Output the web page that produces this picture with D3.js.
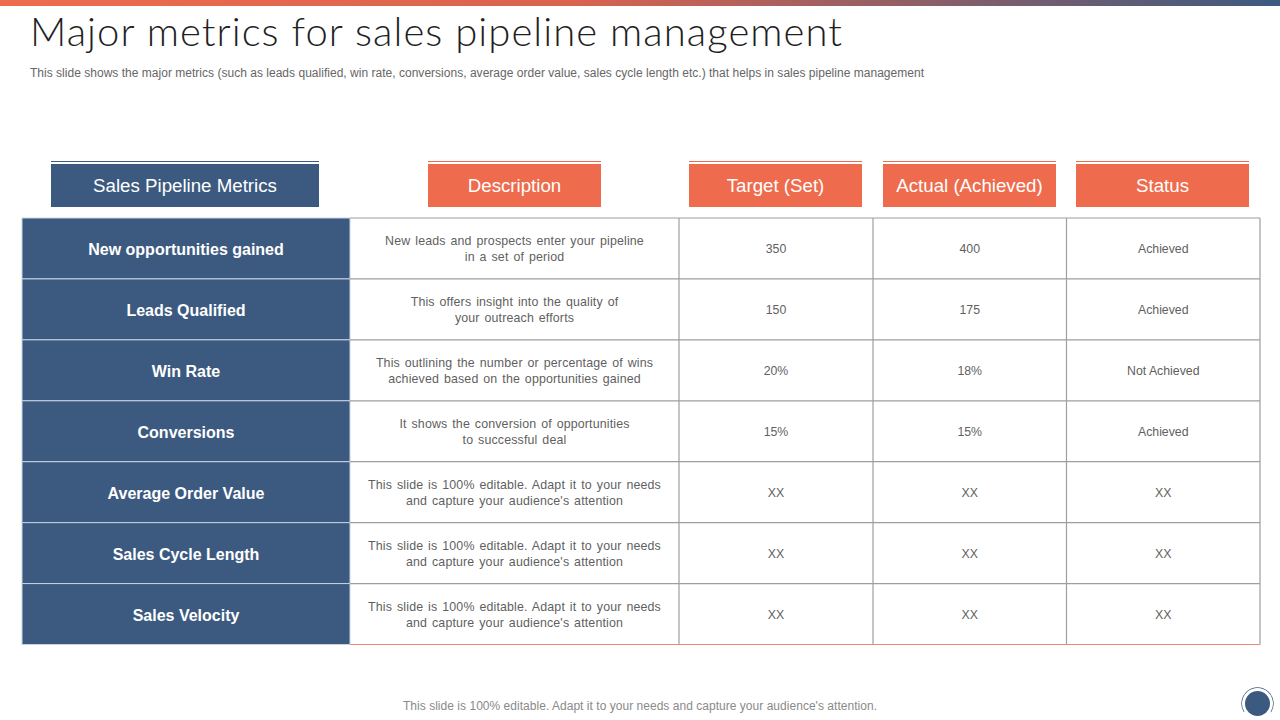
<!DOCTYPE html>
<html>
<head>
<meta charset="utf-8">
<script src="https://cdn.jsdelivr.net/npm/d3@7"></script>
<style>
  html, body { margin: 0; padding: 0; background: #fff; }
  svg { display: block; }
  text { font-family: "Liberation Sans", Arial, sans-serif; }
</style>
</head>
<body>
<div id="wrapper"></div>
<script>
const titleText = "Major metrics for sales pipeline management"
const subtitleText = "This slide shows the major metrics (such as leads qualified, win rate, conversions, average order value, sales cycle length etc.) that helps in sales pipeline management"
const footerText = "This slide is 100% editable. Adapt it to your needs and capture your audience's attention."

const headers = ["Sales Pipeline Metrics", "Description", "Target (Set)", "Actual (Achieved)", "Status"]
const metrics = ["New opportunities gained", "Leads Qualified", "Win Rate", "Conversions", "Average Order Value", "Sales Cycle Length", "Sales Velocity"]
const editable = ["This slide is 100% editable. Adapt it to your needs", "and capture your audience's attention"]
const descriptions = [
  ["New leads and prospects enter your pipeline", "in a set of period"],
  ["This offers insight into the quality of", "your outreach efforts"],
  ["This outlining the number or percentage of wins", "achieved based on the opportunities gained"],
  ["It shows the conversion of opportunities", "to successful deal"],
  editable,
  editable,
  editable
]
const targets = ["350", "150", "20%", "15%", "XX", "XX", "XX"]
const actuals = ["400", "175", "18%", "15%", "XX", "XX", "XX"]
const statuses = ["Achieved", "Achieved", "Not Achieved", "Achieved", "XX", "XX", "XX"]

const dimensions = { width: 1280, height: 720 }
const colors = { blue: "#3c5a80", orange: "#ee6c4d", grid: "#9e9e9e", text: "#5f5f5f", title: "#1f1f1f" }

// table geometry
const columnEdges = [22, 350, 679, 873, 1066.5, 1260]
const headerBoxes = [[51, 319], [428, 601], [689, 862], [883, 1056], [1076, 1249]]
const yScale = d3.scaleBand().domain(metrics).range([218, 644.5])

const svg = d3.select("#wrapper").append("svg")
  .attr("width", dimensions.width)
  .attr("height", dimensions.height)

// top gradient strip
const gradient = svg.append("defs").append("linearGradient").attr("id", "strip")
gradient.append("stop").attr("offset", "0%").attr("stop-color", colors.orange)
gradient.append("stop").attr("offset", "45%").attr("stop-color", "#d9634f")
gradient.append("stop").attr("offset", "100%").attr("stop-color", colors.blue)
svg.append("rect").attr("width", dimensions.width).attr("height", 6).attr("fill", "url(#strip)")

svg.append("text")
  .attr("x", 30).attr("y", 46)
  .attr("textLength", 812).attr("lengthAdjust", "spacing")
  .style("font-family", "Lato, sans-serif").style("font-weight", 300)
  .style("font-size", "40px").attr("fill", colors.title)
  .text(titleText)

svg.append("text")
  .attr("x", 30).attr("y", 77)
  .attr("textLength", 894).attr("lengthAdjust", "spacing")
  .style("font-size", "12px").attr("fill", "#666")
  .text(subtitleText)

// header boxes with the thin rule above them
const headerGroups = svg.selectAll(".header").data(headers).join("g").attr("class", "header")
headerGroups.append("rect")
  .attr("x", (d, i) => headerBoxes[i][0]).attr("y", 164)
  .attr("width", (d, i) => headerBoxes[i][1] - headerBoxes[i][0]).attr("height", 43)
  .attr("fill", (d, i) => i === 0 ? colors.blue : colors.orange)
headerGroups.append("line")
  .attr("x1", (d, i) => headerBoxes[i][0]).attr("x2", (d, i) => headerBoxes[i][1])
  .attr("y1", 161.5).attr("y2", 161.5)
  .attr("stroke", (d, i) => i === 0 ? colors.blue : colors.orange)
headerGroups.append("text")
  .attr("x", (d, i) => (headerBoxes[i][0] + headerBoxes[i][1]) / 2).attr("y", 191.5)
  .attr("text-anchor", "middle").attr("fill", "#fff")
  .style("font-size", "18.7px")
  .text(d => d)

// metric column
const rows = svg.selectAll(".row").data(metrics).join("g").attr("class", "row")
rows.append("rect")
  .attr("x", columnEdges[0]).attr("y", d => yScale(d))
  .attr("width", columnEdges[1] - columnEdges[0]).attr("height", yScale.bandwidth())
  .attr("fill", colors.blue).attr("stroke", "#c5d3e3").attr("stroke-width", 1)
rows.append("text")
  .attr("x", (columnEdges[0] + columnEdges[1]) / 2)
  .attr("y", d => yScale(d) + yScale.bandwidth() / 2 + 6.8)
  .attr("text-anchor", "middle").attr("fill", "#fff")
  .style("font-size", "16px").style("font-weight", "bold")
  .text(d => d)

// grid lines of the white part
const gridLeft = columnEdges[1], gridRight = columnEdges[5]
svg.selectAll(".hgrid").data(metrics).join("line").attr("class", "hgrid")
  .attr("x1", gridLeft).attr("x2", gridRight)
  .attr("y1", d => yScale(d)).attr("y2", d => yScale(d))
  .attr("stroke", colors.grid).attr("stroke-width", 1.2)
svg.selectAll(".vgrid").data(columnEdges.slice(2)).join("line").attr("class", "vgrid")
  .attr("x1", d => d).attr("x2", d => d)
  .attr("y1", yScale.range()[0]).attr("y2", yScale.range()[1])
  .attr("stroke", colors.grid).attr("stroke-width", 1.2)
svg.append("line")
  .attr("x1", gridLeft).attr("x2", gridRight)
  .attr("y1", yScale.range()[1]).attr("y2", yScale.range()[1])
  .attr("stroke", "#e98a78").attr("stroke-width", 1.2)

// description cells, two lines each
descriptions.forEach((lines, i) => {
  const mid = yScale(metrics[i]) + yScale.bandwidth() / 2
  lines.forEach((line, j) => {
    svg.append("text")
      .attr("x", (columnEdges[1] + columnEdges[2]) / 2)
      .attr("y", mid + (j === 0 ? -3.2 : 12.8))
      .attr("text-anchor", "middle").attr("fill", colors.text)
      .style("font-size", "12.4px").style("letter-spacing", "0.15px").style("word-spacing", "1.3px")
      .text(line)
  })
})

// value columns
const valueColumns = [targets, actuals, statuses]
valueColumns.forEach((values, c) => {
  values.forEach((value, i) => {
    svg.append("text")
      .attr("x", (columnEdges[c + 2] + columnEdges[c + 3]) / 2)
      .attr("y", yScale(metrics[i]) + yScale.bandwidth() / 2 + 4.8)
      .attr("text-anchor", "middle").attr("fill", colors.text)
      .style("font-size", "12.3px")
      .text(value)
  })
})

svg.append("text")
  .attr("x", 640).attr("y", 710)
  .attr("text-anchor", "middle").attr("textLength", 474).attr("lengthAdjust", "spacing")
  .attr("fill", "#8a8a8a").style("font-size", "12px")
  .text(footerText)

// page badge bottom right
svg.append("circle").attr("cx", 1257.5).attr("cy", 703.5).attr("r", 12.5).attr("fill", colors.blue)
svg.append("path")
  .attr("d", d3.arc()({ innerRadius: 15.5, outerRadius: 16.2, startAngle: -Math.PI * 0.68, endAngle: Math.PI * 0.68 }))
  .attr("transform", "translate(1257.5,703.5)")
  .attr("fill", colors.blue)
</script>
</body>
</html>
